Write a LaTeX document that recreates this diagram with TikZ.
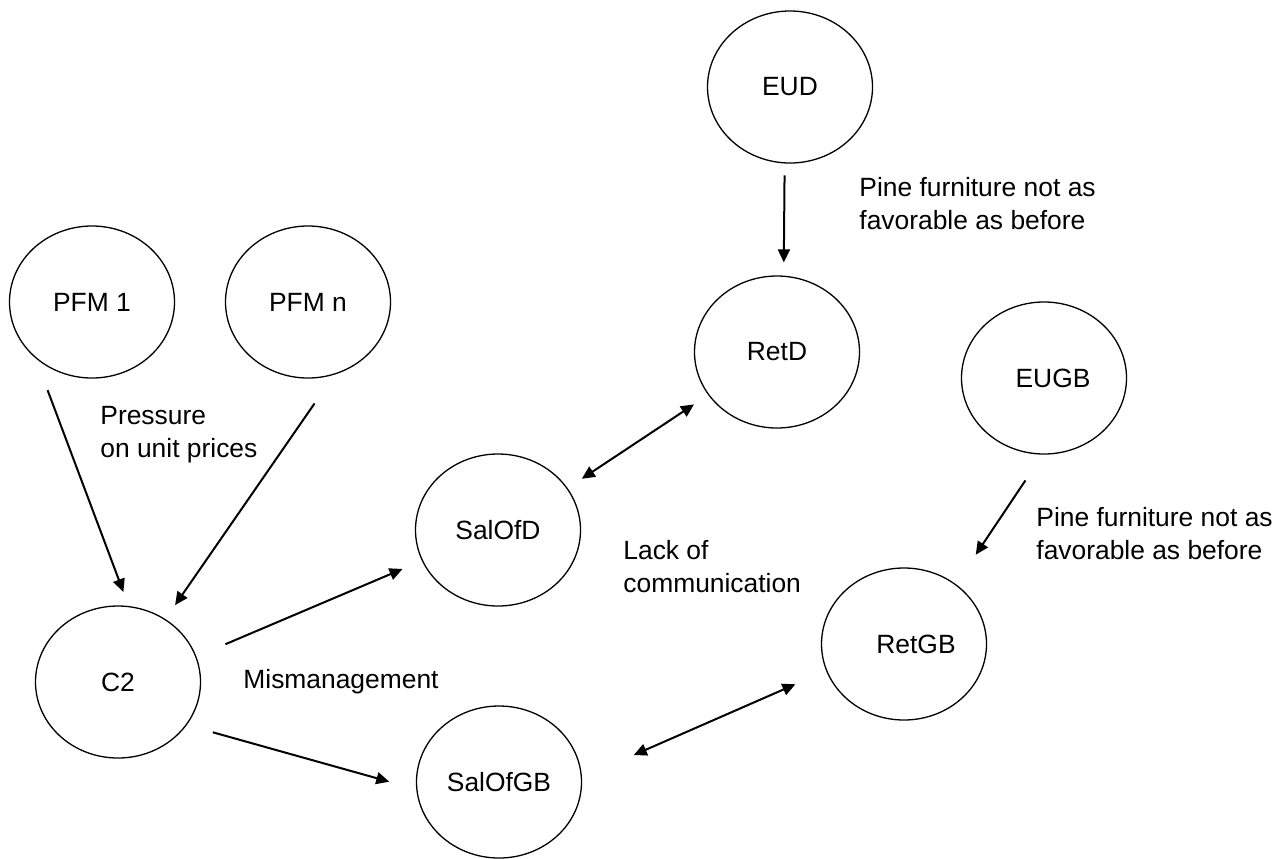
\documentclass[tikz,border=0pt]{standalone}
\usepackage{fontspec}
\setmainfont{Liberation Sans}
\usetikzlibrary{arrows.meta, shapes.geometric}

\begin{document}
\begin{tikzpicture}[
        x=0.5pt, y=-0.5pt,
        font=\fontsize{13.2}{16.5}\selectfont,
        factor/.style={ellipse, draw=black, line width=0.65pt, inner sep=0pt, minimum width=82.5pt, minimum height=76pt},
        note/.style={align=left, anchor=west, inner sep=0pt},
        arrow/.style={line width=1pt, -{Triangle[length=6.5pt, width=6pt]}},
        biarrow/.style={line width=1pt, {Triangle[length=6.5pt, width=6pt]}-{Triangle[length=6.5pt, width=6pt]}}
    ]
    \useasboundingbox (0,0) rectangle (1284,858);

    % Nodes
    \node (PFM1) [factor] at (92,302) {PFM 1};
    \node (PFMn) [factor] at (308,302) {PFM n};
    \node (C2) [factor] at (118,682) {C2};
    \node (SalOfD) [factor] at (498,530) {SalOfD};
    \node (SalOfGB) [factor] at (499,782) {SalOfGB};
    \node (EUD) [factor] at (790,87) {EUD};
    \node (RetD) [factor] at (777,352) {RetD};
    \node (EUGB) [factor] at (1044,378) {\hspace*{9pt}EUGB};
    \node (RetGB) [factor] at (904,644) {\hspace*{12pt}RetGB};

    % Labels
    \node (pressure) [note] at (100,435) {Pressure\\on unit prices};
    \node (mismgmt) [note] at (243,682) {Mismanagement};
    \node (lackcomm) [note] at (623,567) {Lack of\\communication};
    \node (pineD) [note] at (859,204) {Pine furniture not as\\favorable as before};
    \node (pineGB) [note] at (1036,534) {Pine furniture not as\\favorable as before};

    % Arrows
    \draw [arrow, shorten <=17pt, shorten >=7.5pt] (PFM1.225) -- (C2.82);
    \draw [arrow, shorten <=17.5pt, shorten >=8.5pt] (PFMn.290) -- (C2.53);
    \draw [arrow, shorten <=15.75pt, shorten >=10.5pt] (C2.18) -- (SalOfD.202);
    \draw [arrow, shorten <=13.5pt, shorten >=14pt] (C2.328) -- (SalOfGB.185);
    \draw [arrow, shorten <=6pt, shorten >=6.6pt] (EUD.266) -- (RetD.85);
    \draw [arrow, shorten <=15.5pt, shorten >=17.75pt] (EUGB.269) -- (RetGB.49);

    % Two-way links
    \draw [biarrow, shorten <=8.5pt, shorten >=8.5pt] (SalOfD.31) -- (RetD.212);
    \draw [biarrow, shorten <=28.25pt, shorten >=16.75pt] (SalOfGB.3) -- (RetGB.199);

\end{tikzpicture}
\end{document}
